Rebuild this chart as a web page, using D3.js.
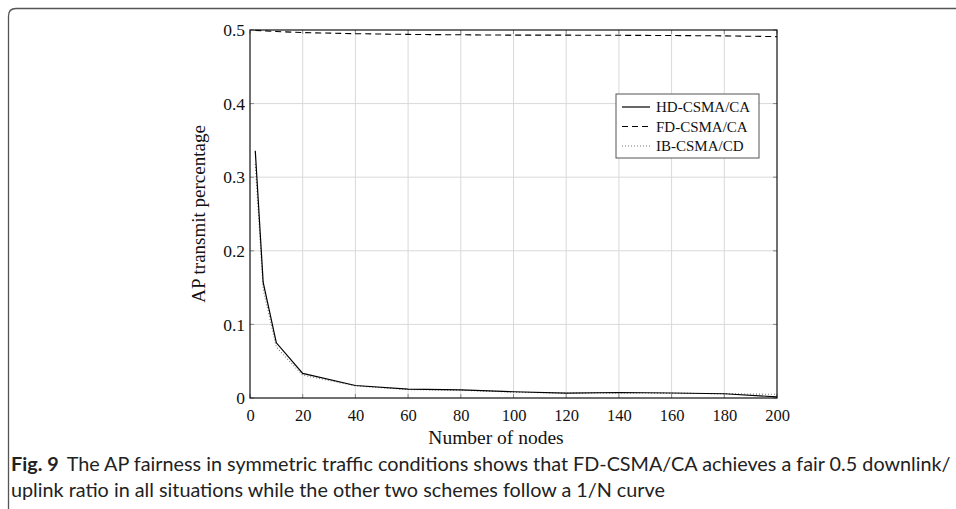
<!DOCTYPE html>
<html>
<head>
<meta charset="utf-8">
<script src="https://cdn.jsdelivr.net/npm/d3@7"></script>
<style>
  body { margin: 0; background: #fff; }
  svg { display: block; }
</style>
</head>
<body>
<svg id="chart" width="956" height="509"></svg>
<script>
// Number of nodes on the x axis
const nodes = [2, 5, 10, 20, 40, 60, 80, 100, 120, 140, 160, 180, 200];
// AP transmit share for each scheme
const hdValues = [0.336, 0.157, 0.075, 0.0335, 0.017, 0.012, 0.011, 0.0085, 0.0065, 0.0075, 0.0068, 0.0058, 0.0015];
const fdValues = [0.4995, 0.499, 0.498, 0.4965, 0.495, 0.494, 0.4935, 0.493, 0.493, 0.4928, 0.4925, 0.492, 0.491];
const ibValues = [0.318, 0.148, 0.069, 0.031, 0.0165, 0.0115, 0.0105, 0.008, 0.0065, 0.007, 0.0065, 0.0058, 0.005];
const xTicks = [0, 20, 40, 60, 80, 100, 120, 140, 160, 180, 200];
const yTicks = [0, 0.1, 0.2, 0.3, 0.4, 0.5];
const seriesNames = ["HD-CSMA/CA", "FD-CSMA/CA", "IB-CSMA/CD"];

const svg = d3.select("#chart");
const serif = "'Liberation Serif', 'Times New Roman', serif";

// outer figure frame with rounded top-left corner
svg.append("path")
  .attr("d", "M8.5,509 L8.5,16 Q8.5,8.5 16,8.5 L956,8.5")
  .attr("fill", "none").attr("stroke", "#555").attr("stroke-width", 1.3);

const plot = { left: 250, right: 777, top: 30, bottom: 398 };
const x = d3.scaleLinear().domain([0, 200]).range([plot.left, plot.right]);
const y = d3.scaleLinear().domain([0, 0.5]).range([plot.bottom, plot.top]);

// grid
const grid = svg.append("g");
grid.selectAll(".gx").data(xTicks.slice(1, -1)).join("line")
  .attr("x1", d => x(d)).attr("x2", d => x(d))
  .attr("y1", plot.top).attr("y2", plot.bottom)
  .attr("stroke", "#d9d9d9").attr("stroke-width", 1);
grid.selectAll(".gy").data(yTicks.slice(1, -1)).join("line")
  .attr("x1", plot.left).attr("x2", plot.right)
  .attr("y1", d => y(d)).attr("y2", d => y(d))
  .attr("stroke", "#d9d9d9").attr("stroke-width", 1);

// axes
const xAxis = svg.append("g").attr("transform", `translate(0,${plot.bottom})`)
  .call(d3.axisBottom(x).tickValues(xTicks).tickSize(0).tickPadding(9).tickFormat(d3.format("d")));
const yAxis = svg.append("g").attr("transform", `translate(${plot.left},0)`)
  .call(d3.axisLeft(y).tickValues(yTicks).tickSize(0).tickPadding(5).tickFormat(d => d === 0 ? "0" : d3.format(".1f")(d)));
[xAxis, yAxis].forEach(a => {
  a.select(".domain").remove();
  a.selectAll("text").attr("font-family", serif).attr("fill", "#111");
});
xAxis.selectAll("text").attr("font-size", 16.5).attr("dy", "0.85em");
yAxis.selectAll("text").attr("font-size", 17.5);

// small inner tick marks along the frame
const tk = svg.append("g").attr("stroke", "#888").attr("stroke-width", 1);
xTicks.forEach(d => {
  tk.append("line").attr("x1", x(d)).attr("x2", x(d)).attr("y1", plot.bottom).attr("y2", plot.bottom - 4);
  tk.append("line").attr("x1", x(d)).attr("x2", x(d)).attr("y1", plot.top).attr("y2", plot.top + 4);
});
yTicks.forEach(d => {
  tk.append("line").attr("x1", plot.left).attr("x2", plot.left + 4).attr("y1", y(d)).attr("y2", y(d));
  tk.append("line").attr("x1", plot.right).attr("x2", plot.right - 4).attr("y1", y(d)).attr("y2", y(d));
});

// series
const line = d3.line().x(d => x(d[0])).y(d => y(d[1]));
const styles = [
  { values: hdValues, dash: null, color: "#000", width: 1.2 },
  { values: fdValues, dash: "6,4", color: "#000", width: 1.1 },
  { values: ibValues, dash: "1,2", color: "#777", width: 1.1 }
];
styles.slice().reverse().forEach(s => {
  svg.append("path")
    .datum(nodes.map((n, i) => [n, s.values[i]]))
    .attr("d", line)
    .attr("fill", "none").attr("stroke", s.color).attr("stroke-width", s.width)
    .attr("stroke-dasharray", s.dash);
});

// plot frame
svg.append("rect")
  .attr("x", plot.left).attr("y", plot.top)
  .attr("width", plot.right - plot.left).attr("height", plot.bottom - plot.top)
  .attr("fill", "none").attr("stroke", "#111").attr("stroke-width", 1.2);

// legend
const lg = svg.append("g").attr("transform", "translate(616,94)");
lg.append("rect").attr("width", 143).attr("height", 64)
  .attr("fill", "#fff").attr("stroke", "#555").attr("stroke-width", 1);
seriesNames.forEach((name, i) => {
  const yy = 13 + i * 19.5;
  lg.append("line").attr("x1", 6).attr("x2", 34).attr("y1", yy).attr("y2", yy)
    .attr("stroke", styles[i].color).attr("stroke-width", styles[i].width)
    .attr("stroke-dasharray", styles[i].dash);
  lg.append("text").attr("x", 40).attr("y", yy + 5)
    .attr("font-family", serif).attr("font-size", 15).attr("fill", "#111").text(name);
});

// axis titles
svg.append("text").attr("x", 496).attr("y", 444)
  .attr("text-anchor", "middle").attr("font-family", serif).attr("font-size", 19.5)
  .attr("fill", "#111").text("Number of nodes");
svg.append("text")
  .attr("transform", `translate(205,${(plot.top + plot.bottom) / 2}) rotate(-90)`)
  .attr("text-anchor", "middle").attr("font-family", serif).attr("font-size", 19)
  .attr("fill", "#111").text("AP transmit percentage");

// caption
const cap = svg.append("g").attr("font-family", "Lato, 'Open Sans', sans-serif")
  .attr("font-size", 19.8).attr("fill", "#222");
const l1 = cap.append("text").attr("x", 11).attr("y", 471);
l1.append("tspan").attr("font-weight", "bold").text("Fig. 9");
l1.append("tspan").attr("dx", 8).text("The AP fairness in symmetric traffic conditions shows that FD-CSMA/CA achieves a fair 0.5 downlink/");
cap.append("text").attr("x", 11).attr("y", 497)
  .text("uplink ratio in all situations while the other two schemes follow a 1/N curve");
</script>
</body>
</html>
